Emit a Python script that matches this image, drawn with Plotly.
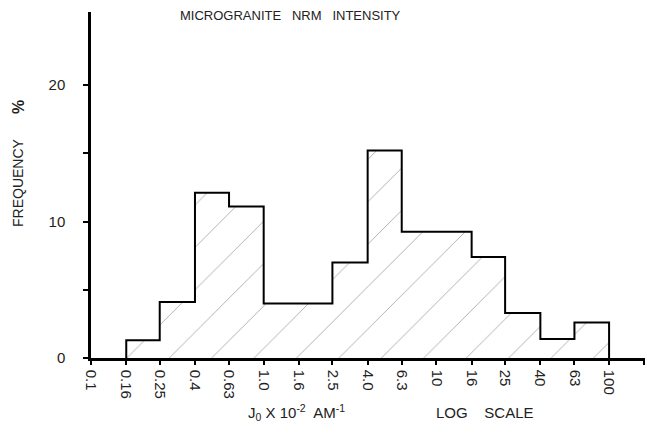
import plotly.graph_objects as go

# Bin edges (J0 x 10^-2 A/m, log scale) and frequency (%)
edges = [0.16, 0.25, 0.4, 0.63, 1.0, 1.6, 2.5, 4.0, 6.3, 10, 16, 25, 40, 63, 100]
freq = [1.3, 4.1, 12.1, 11.1, 4.0, 4.0, 7.0, 15.2, 9.25, 9.25, 7.4, 3.3, 1.4, 2.6]

tick_vals = [0.1, 0.16, 0.25, 0.4, 0.63, 1.0, 1.6, 2.5, 4.0, 6.3, 10, 16, 25, 40, 63, 100]
tick_text = ["0.1", "0.16", "0.25", "0.4", "0.63", "1.0", "1.6", "2.5", "4.0", "6.3",
             "10", "16", "25", "40", "63", "100"]
x_minor = [160]
y_vals = [0, 10, 20]
y_text = ["0\u2003", "10\u2003", "20\u2003"]
y_minor = [5, 15]

# step outline
xs = [edges[0]] + edges[:-1] + [edges[-1]]
ys = [0] + freq + [0]

fig = go.Figure()
fig.add_trace(go.Scatter(
    x=xs, y=ys, mode="lines", line=dict(shape="hv", color="black", width=2),
    fill="tozeroy", fillcolor="rgba(0,0,0,0)",
    fillpattern=dict(shape="/", size=30, solidity=0.03, fgcolor="#555", bgcolor="white"),
    showlegend=False, hoverinfo="skip",
))

font = dict(family="Liberation Sans, Arial, sans-serif", color="#222")

fig.update_layout(
    width=647, height=439,
    margin=dict(l=91, r=2, t=12, b=81),
    paper_bgcolor="white", plot_bgcolor="white",
    font=dict(size=13, **font),
    xaxis=dict(
        type="log", range=[-1.0, 2.208],
        tickvals=tick_vals, ticktext=tick_text, tickangle=90,
        ticks="outside", ticklen=4, tickwidth=2, tickcolor="black",
        minor=dict(tickvals=x_minor, ticks="outside", ticklen=4, tickwidth=2,
                   tickcolor="black", showgrid=False),
        showline=True, linecolor="black", linewidth=2.5,
        showgrid=False, zeroline=False, ticklabelstandoff=2,
        tickfont=dict(size=15, **font),
    ),
    yaxis=dict(
        range=[0, 25.35],
        tickvals=y_vals, ticktext=y_text,
        ticks="outside", ticklen=5, tickwidth=2, tickcolor="black",
        minor=dict(tickvals=y_minor, ticks="outside", ticklen=5, tickwidth=2,
                   tickcolor="black", showgrid=False),
        showline=True, linecolor="black", linewidth=2.5,
        showgrid=False, zeroline=False,
        tickfont=dict(size=15, **font),
    ),
)

# place annotations using paper coordinates computed from pixels
def px(x):
    return (x - 91) / (647 - 91 - 2)

def py(y):
    return (439 - 81 - y) / (439 - 12 - 81)

fig.add_annotation(text="MICROGRANITE   NRM   INTENSITY", x=px(290), y=py(16), xref="paper", yref="paper",
                   showarrow=False, font=dict(size=13, **font), xanchor="center", yanchor="middle")
fig.add_annotation(text="FREQUENCY", x=px(18), y=py(182), xref="paper", yref="paper", textangle=-90,
                   showarrow=False, font=dict(size=14, **font), xanchor="center", yanchor="middle")
fig.add_annotation(text="<b>%</b>", x=px(19), y=py(107), xref="paper", yref="paper", textangle=-90,
                   showarrow=False, font=dict(size=16, **font), xanchor="center", yanchor="middle")
fig.add_annotation(text="J<sub>0</sub> X 10<sup>-2</sup>  AM<sup>-1</sup>", x=px(246), y=py(412),
                   xref="paper", yref="paper", showarrow=False, font=dict(size=15, **font),
                   xanchor="left", yanchor="middle")
fig.add_annotation(text="LOG    SCALE", x=px(536), y=py(412),
                   xref="paper", yref="paper", showarrow=False, font=dict(size=15, **font),
                   xanchor="right", yanchor="middle")

fig.write_html("out.html")
